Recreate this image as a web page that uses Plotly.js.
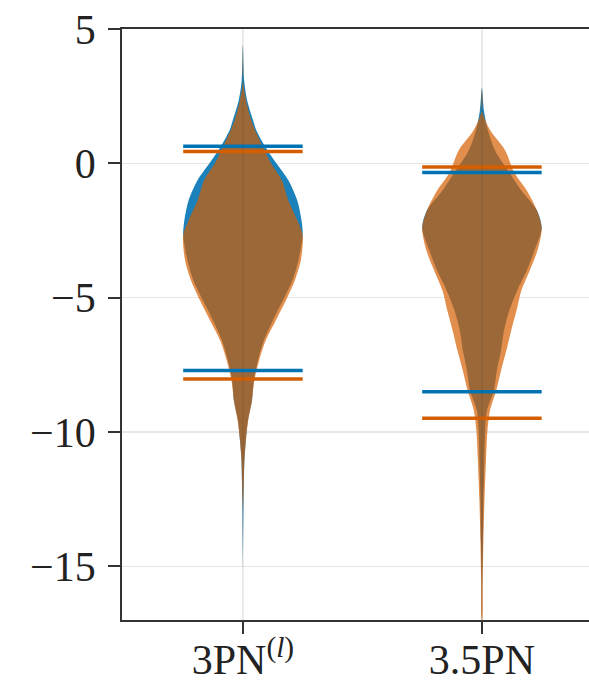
<!DOCTYPE html>
<html>
<head>
<meta charset="utf-8">
<script src="https://cdn.plot.ly/plotly-3.0.1.min.js"></script>
<style>
  html, body { margin: 0; padding: 0; background: #ffffff; overflow: hidden; }
  #chart { width: 589px; height: 684px; }
</style>
</head>
<body>
<div id="chart"></div>
<script>
// Category labels along the x axis
const categories = ['3PN<sup>(<i>l</i>)</sup>', '3.5PN'];

// Density profiles (relative half-widths, 1 = widest) sampled at the listed y levels
const yLevels3PN = [4.4, 3.1, 2.35, 1.6, 1.25, 0.63, 0, -0.63, -1.38, -2.12, -2.68, -3.6, -4.35,
                    -5.1, -5.85, -6.6, -7.35, -8.1, -8.85, -9.55, -10.3, -11.05, -12.55, -13.0, -15.0];
const blue3PN   = [0, 0.02, 0.07, 0.17, 0.22, 0.37, 0.56, 0.76, 0.91, 0.98, 1.0, 0.93, 0.83,
                   0.67, 0.5, 0.35, 0.25, 0.18, 0.15, 0.085, 0.05, 0.025, 0.01, 0.008, 0];
const orange3PN = [0, 0, 0.05, 0.14, 0.2, 0.33, 0.47, 0.65, 0.76, 0.91, 1.0, 0.97, 0.87,
                   0.72, 0.55, 0.38, 0.27, 0.19, 0.15, 0.09, 0.05, 0.025, 0.007, 0, 0];

const yLevels35PN = [2.8, 1.97, 1.23, 0.48, -0.34, -1.01, -1.75, -2.42, -3.24, -3.99, -4.73, -5.47,
                     -6.22, -6.96, -7.71, -8.45, -9.2, -9.94, -11.06, -12.55, -14.04, -15.5, -17.0];
const blue35PN   = [0, 0.034, 0.1, 0.22, 0.46, 0.66, 0.92, 1.0, 0.88, 0.75, 0.59, 0.46,
                    0.37, 0.32, 0.25, 0.2, 0.085, 0.056, 0.042, 0.025, 0.017, 0.005, 0];
const orange35PN = [0, 0, 0.14, 0.39, 0.54, 0.75, 0.92, 1.0, 0.93, 0.8, 0.66, 0.58,
                    0.49, 0.41, 0.32, 0.24, 0.135, 0.093, 0.068, 0.042, 0.025, 0.014, 0.004];

// Interval bounds (upper, lower) marked with horizontal bars
const blueBounds   = [[0.64, -7.71], [-0.34, -8.5]];
const orangeBounds = [[0.44, -8.03], [-0.14, -9.49]];

const BLUE_FILL = 'rgba(1,115,178,0.9)';
const ORANGE_FILL = 'rgba(213,94,0,0.7)';
const BLUE_LINE = '#0173b2';
const ORANGE_LINE = '#d55e00';
const HALF_WIDTH = 0.25;
const BAR_HALF = 0.25;

function violin(center, ys, dens, color) {
  const xs = [], yy = [];
  for (let i = 0; i < ys.length; i++) { xs.push(center + HALF_WIDTH * dens[i]); yy.push(ys[i]); }
  for (let i = ys.length - 1; i >= 0; i--) { xs.push(center - HALF_WIDTH * dens[i]); yy.push(ys[i]); }
  return {
    type: 'scatter', mode: 'lines', x: xs, y: yy, fill: 'toself',
    fillcolor: color, line: {width: 0, color: color, shape: 'spline', smoothing: 0.8},
    hoverinfo: 'skip', showlegend: false
  };
}

function bars(bounds, color) {
  const xs = [], yy = [];
  bounds.forEach((b, i) => {
    b.forEach(v => { xs.push(i - BAR_HALF, i + BAR_HALF, null); yy.push(v, v, null); });
  });
  return {
    type: 'scatter', mode: 'lines', x: xs, y: yy,
    line: {color: color, width: 3.5}, hoverinfo: 'skip', showlegend: false
  };
}

const traces = [
  violin(0, yLevels3PN, blue3PN, BLUE_FILL),
  violin(1, yLevels35PN, blue35PN, BLUE_FILL),
  violin(0, yLevels3PN, orange3PN, ORANGE_FILL),
  violin(1, yLevels35PN, orange35PN, ORANGE_FILL),
  bars(blueBounds, BLUE_LINE),
  bars(orangeBounds, ORANGE_LINE)
];

// Vertical grid lines at each category, drawn over the violins
const shapes = categories.map((c, i) => ({
  type: 'line', xref: 'x', yref: 'paper', x0: i, x1: i, y0: 0, y1: 1,
  line: {color: 'rgba(60,70,60,0.15)', width: 1.5}, layer: 'above'
}));

const font = {family: 'Liberation Serif, Times New Roman, serif', size: 42, color: '#222'};

const layout = {
  width: 589, height: 684,
  margin: {l: 122, r: 0, t: 29, b: 64},
  paper_bgcolor: '#ffffff', plot_bgcolor: '#ffffff',
  font: font,
  showlegend: false,
  shapes: shapes,
  xaxis: {
    range: [-0.506, 1.448],
    tickmode: 'array', tickvals: categories.map((c, i) => i), ticktext: categories,
    showgrid: false, zeroline: false,
    showline: true, mirror: true, linecolor: '#333', linewidth: 1.8,
    ticks: 'outside', ticklen: 12, tickwidth: 1.8, tickcolor: '#333',
    tickfont: font, ticklabelstandoff: -10
  },
  yaxis: {
    range: [-17.0, 5.0],
    tickmode: 'array', tickvals: [5, 0, -5, -10, -15],
    showgrid: true, gridcolor: '#e6e6e6', gridwidth: 1.5, zeroline: false,
    showline: true, mirror: false, linecolor: '#333', linewidth: 1.8,
    ticks: 'outside', ticklen: 12, tickwidth: 1.8, tickcolor: '#333',
    tickfont: font, ticklabelstandoff: 4
  }
};

Plotly.newPlot('chart', traces, layout, {staticPlot: true, displayModeBar: false});
</script>
</body>
</html>
